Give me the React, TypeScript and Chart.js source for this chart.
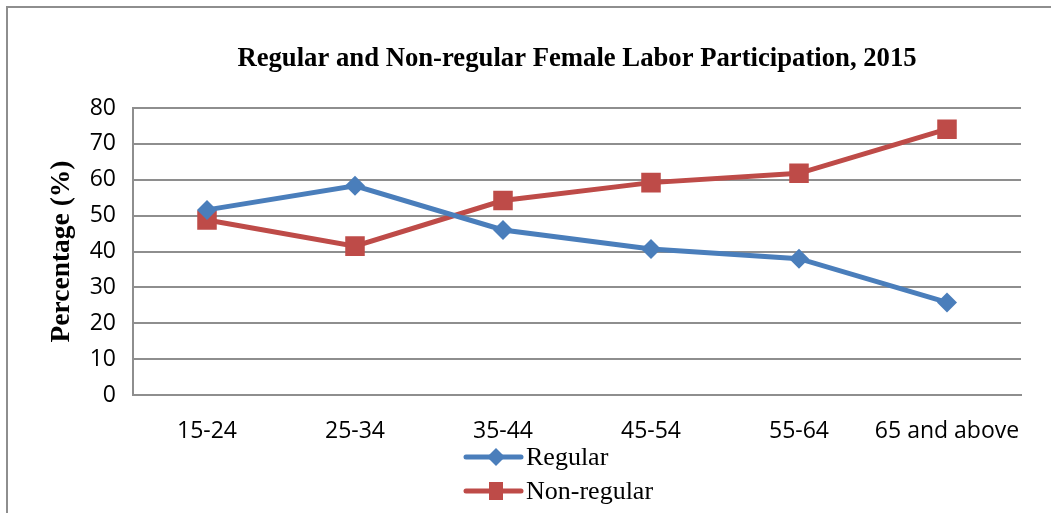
import React, { useEffect, useRef } from 'react';
import { Chart, registerables } from 'chart.js';

Chart.register(...registerables);

const categories = ['15-24', '25-34', '35-44', '45-54', '55-64', '65 and above'];
const regularValues = [51.6, 58.3, 46.0, 40.7, 38.0, 25.8];
const nonRegularValues = [48.8, 41.5, 54.2, 59.2, 61.8, 74.1];
const seriesNames = ['Regular', 'Non-regular'];
const yMin = 0;
const yMax = 80;
const yStep = 10;
const titleText = 'Regular and Non-regular Female Labor Participation, 2015';
const yTitleText = 'Percentage (%)';

const BLUE = '#4A7EBB';
const RED = '#BE4B48';
const GRID = '#8E8E8E';
const SERIF = "'Liberation Serif', 'Times New Roman', serif";
const SANS = "'Open Sans', 'DejaVu Sans', sans-serif";

const titlePlugin = {
  id: 'areaTitle',
  afterDraw(chart: any) {
    const ctx = chart.ctx as CanvasRenderingContext2D;
    const area = chart.chartArea;
    ctx.save();
    ctx.fillStyle = '#000';
    ctx.font = `bold 26.7px ${SERIF}`;
    ctx.textAlign = 'center';
    ctx.textBaseline = 'alphabetic';
    ctx.fillText(titleText, (area.left + area.right) / 2, area.top - 42);
    ctx.restore();
  },
};

const legendPlugin = {
  id: 'vertLegend',
  afterDraw(chart: any) {
    const ctx = chart.ctx as CanvasRenderingContext2D;
    const area = chart.chartArea;
    const x0 = 466;
    const x1 = 521;
    const mx = 496;
    const tx = 526;
    const rows = [area.bottom + 62, area.bottom + 96];
    ctx.save();
    chart.data.datasets.forEach((ds: any, i: number) => {
      const y = rows[i];
      ctx.strokeStyle = ds.borderColor;
      ctx.lineWidth = 5;
      ctx.lineCap = 'round';
      ctx.beginPath();
      ctx.moveTo(x0, y);
      ctx.lineTo(x1, y);
      ctx.stroke();
      ctx.fillStyle = ds.backgroundColor;
      if (ds.pointStyle === 'rectRot') {
        const r = 9;
        ctx.beginPath();
        ctx.moveTo(mx - r, y);
        ctx.lineTo(mx, y - r);
        ctx.lineTo(mx + r, y);
        ctx.lineTo(mx, y + r);
        ctx.closePath();
        ctx.fill();
      } else {
        ctx.fillRect(mx - 7, y - 9, 14, 18);
      }
      ctx.fillStyle = '#000';
      ctx.font = `26px ${SERIF}`;
      ctx.textAlign = 'left';
      ctx.textBaseline = 'alphabetic';
      ctx.fillText(ds.label, tx, y + 8);
    });
    ctx.restore();
  },
};

export default function App() {
  const ref = useRef<HTMLCanvasElement | null>(null);

  useEffect(() => {
    if (!ref.current) return;
    const chart = new Chart(ref.current, {
      type: 'line',
      data: {
        labels: categories,
        datasets: [
          {
            label: seriesNames[0],
            data: regularValues,
            borderColor: BLUE,
            backgroundColor: BLUE,
            borderWidth: 5,
            pointStyle: 'rectRot',
            pointRadius: 10,
            pointBorderWidth: 0,
            pointBackgroundColor: BLUE,
            tension: 0,
          },
          {
            label: seriesNames[1],
            data: nonRegularValues,
            borderColor: RED,
            backgroundColor: RED,
            borderWidth: 5,
            pointStyle: 'rect',
            pointRadius: 13.8,
            pointBorderWidth: 0,
            pointBackgroundColor: RED,
            tension: 0,
          },
        ],
      },
      options: {
        responsive: false,
        animation: false,
        layout: { padding: { left: 0, right: 30, top: 108, bottom: 68 } },
        plugins: {
          legend: { display: false },
          tooltip: { enabled: false },
          title: { display: false },
        },
        scales: {
          x: {
            type: 'category',
            offset: true,
            grid: { display: false, drawTicks: false },
            border: { display: true, color: GRID, width: 2 },
            ticks: {
              color: '#000',
              font: { family: SANS, size: 23 },
              padding: 23,
              maxRotation: 0,
              autoSkip: false,
            },
            afterFit: (s: any) => {
              s.height = 50;
            },
          },
          y: {
            min: yMin,
            max: yMax,
            grid: { color: GRID, lineWidth: 2, drawTicks: false },
            border: { display: true, color: GRID, width: 2 },
            ticks: {
              stepSize: yStep,
              color: '#000',
              font: { family: SANS, size: 23 },
              padding: 17,
            },
            title: {
              display: true,
              text: yTitleText,
              color: '#000',
              font: { family: SERIF, size: 27.5, weight: 'bold' },
              padding: { top: 45.5, bottom: 0 },
            },
            afterFit: (s: any) => {
              s.width = 133;
            },
          },
        },
      },
      plugins: [titlePlugin, legendPlugin],
    });
    return () => chart.destroy();
  }, []);

  return (
    <div
      style={{
        position: 'absolute',
        left: 0,
        top: 0,
        width: 1051,
        height: 513,
        background: '#fff',
        overflow: 'hidden',
      }}
    >
      <div
        style={{
          position: 'absolute',
          left: 6,
          top: 6,
          width: 1100,
          height: 600,
          borderLeft: `2px solid ${GRID}`,
          borderTop: `2px solid ${GRID}`,
        }}
      />
      <canvas
        ref={ref}
        width={1051}
        height={513}
        style={{ position: 'absolute', left: 0, top: 0, width: 1051, height: 513 }}
      />
    </div>
  );
}
